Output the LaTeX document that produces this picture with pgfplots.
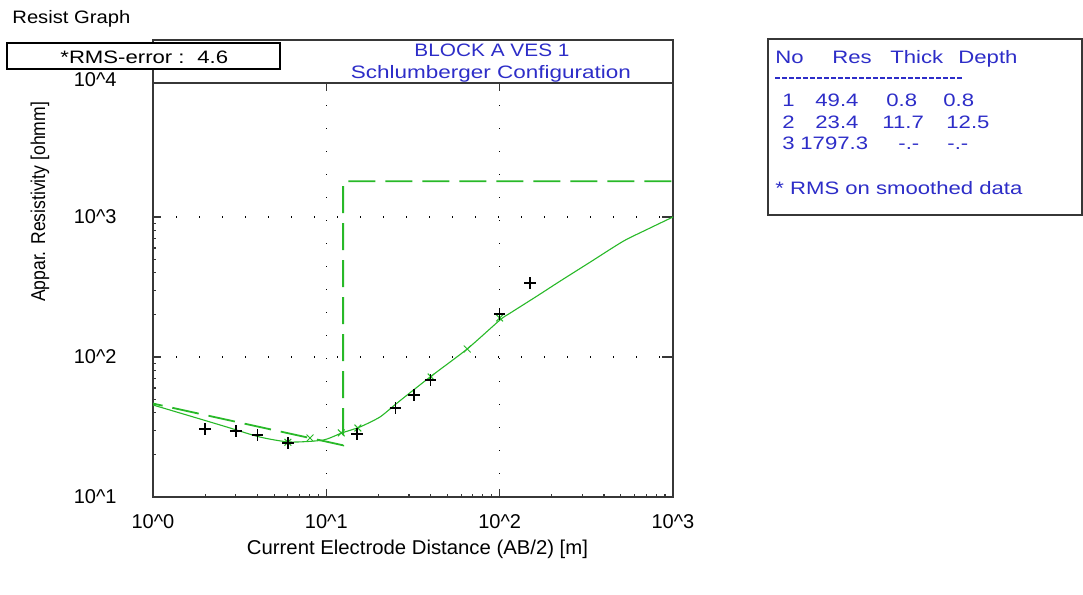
\documentclass[border=0pt]{standalone}
\usepackage{fontspec}
\setmainfont{Liberation Sans}
\usepackage{graphicx}
\usepackage{pgfplots}
\pgfplotsset{compat=1.18}
\definecolor{cgreen}{RGB}{40,185,40}
\definecolor{cblue}{RGB}{45,45,200}
\definecolor{cframe}{RGB}{55,55,55}
\newcommand\fitw[2]{\resizebox{#1}{\height}{#2}}
\newcommand\wid[1]{\scalebox{1.23}[1]{#1}}
\newcommand\nine{\fontsize{9}{11}\selectfont}
\newcommand\ten{\fontsize{10}{12}\selectfont}
\begin{document}
\begin{tikzpicture}
\path[use as bounding box, fill=white] (0pt,0pt) rectangle (541.5pt,297.5pt);
\begin{axis}[
  at={(76.5pt,49pt)}, anchor=south west,
  width=260pt, height=207pt, scale only axis,
  xmode=log, ymode=log,
  xmin=1, xmax=1000, ymin=10, ymax=9057,
  xtick={1,10,100,1000},
  xticklabels={10\textasciicircum 0,10\textasciicircum 1,10\textasciicircum 2,10\textasciicircum 3},
  ytick={10,100,1000},
  yticklabels={10\textasciicircum 1,10\textasciicircum 2,10\textasciicircum 3},
  xtick pos=bottom, ytick pos=left,
  tick align=inside,
  major tick length=4pt, minor tick length=1.5pt,
  tick style={cframe, line width=0.6pt},
  axis line style={cframe, line width=0.8pt},
  xticklabel style={font=\ten, inner sep=0pt, yshift=-8.75pt},
  yticklabel style={font=\ten, inner sep=0pt, xshift=-18pt},
  grid=major,
  major grid style={black, line width=0.7pt, dash pattern=on 0.7pt off 10.8pt},
  extra y ticks={100,1000}, extra y tick labels={,},
  extra y tick style={ytick pos=right, major tick length=5.5pt, grid=none},
  extra x ticks={10,100}, extra x tick labels={,},
  extra x tick style={xtick pos=top, major tick length=4pt, grid=none},
  clip=true,
]
% layered model (dashed)
\addplot[cgreen, line width=0.9pt, dash pattern=on 13.5pt off 5pt]
  coordinates {(0.8,49.4) (12.5,23.4) (12.5,1797.3) (1000,1797.3)};
% calculated curve
\addplot[cgreen, line width=0.55pt, smooth, tension=0.4]
  coordinates {(1.0,45.4) (1.635,37.9) (2.67,31.6) (4.14,26.8) (6.17,24.7)
    (9.57,25.5) (12.3,28.7) (15.6,31.6) (20.4,37.3) (25.6,46.9) (39.7,72.0)
    (64.9,114) (100.5,184) (114.8,205.6) (164,272) (223,348) (332,475)
    (515,670) (709,815) (1000,1000)};
% smoothed data
\addplot[only marks, mark=x, mark size=2.4pt, cgreen, mark options={line width=0.5pt}]
  coordinates {(6.0,24.6) (8.05,26.4) (12.2,28.7) (15.2,31.1) (40.2,72) (65,114) (100,190)};
% observed data
\addplot[only marks, mark=+, mark size=2.9pt, black, mark options={line width=0.8pt}]
  coordinates {(2.0,30.6) (3.0,29.6) (4.0,27.7) (6.0,24.3) (15.0,28.2)
    (25,43.2) (32,53.5) (40,68.5) (100,203) (150,338)};
\end{axis}
% 10^4 label
\node[anchor=east, inner sep=0pt, font=\ten] at (58.5pt,257.5pt) {10\textasciicircum 4};
% title frame
\draw[cframe, line width=0.75pt] (76.5pt,256pt) rectangle (336.5pt,277.5pt);
\node[anchor=base, inner sep=0pt, text=cblue, font=\nine] at (246pt,269pt) {\fitw{77.5pt}{BLOCK A VES 1}};
\node[anchor=base, inner sep=0pt, text=cblue, font=\nine] at (245.5pt,258pt) {\fitw{140pt}{Schlumberger Configuration}};
% RMS box
\draw[black, fill=white, line width=0.75pt] (3.5pt,276pt) rectangle (140pt,263pt);
\node[anchor=base west, inner sep=0pt, font=\nine] at (30pt,265.5pt) {\wid{*RMS-error :}};
\node[anchor=base west, inner sep=0pt, font=\nine] at (98.5pt,265.5pt) {\wid{4.6}};
% Resist Graph
\node[anchor=base west, inner sep=0pt, font=\nine] at (6pt,285.5pt) {\fitw{59pt}{Resist Graph}};
% axis labels
\node[anchor=base, inner sep=0pt, font=\ten] at (208.75pt,20pt) {\fitw{170.5pt}{Current Electrode Distance (AB/2) [m]}};
\node[rotate=90, inner sep=0pt, font=\ten] at (20pt,196.5pt) {\fitw{100pt}{Appar. Resistivity [ohmm]}};
% legend box
\draw[cframe, line width=0.75pt] (384pt,278pt) rectangle (541pt,190pt);
\begin{scope}[every node/.style={anchor=base west, inner sep=0pt, text=cblue, font=\nine}]
\node at (387.5pt,265.8pt) {\wid{No}};
\node at (416pt,265.8pt) {\wid{Res}};
\node at (445pt,265.8pt) {\wid{Thick}};
\node at (479pt,265.8pt) {\wid{Depth}};
\node at (391pt,244.3pt) {\wid{1}};
\node at (407.5pt,244.3pt) {\wid{49.4}};
\node at (443pt,244.3pt) {\wid{0.8}};
\node at (471.5pt,244.3pt) {\wid{0.8}};
\node at (391pt,233.3pt) {\wid{2}};
\node at (407.5pt,233.3pt) {\wid{23.4}};
\node at (441pt,233.3pt) {\wid{11.7}};
\node at (473pt,233.3pt) {\wid{12.5}};
\node at (391pt,222.8pt) {\wid{3}};
\node at (400pt,222.8pt) {\wid{1797.3}};
\node at (449pt,222.8pt) {\wid{-.-}};
\node at (473.5pt,222.8pt) {\wid{-.-}};
\node at (387.5pt,200.3pt) {\fitw{123.5pt}{* RMS on smoothed data}};
\end{scope}
\draw[cblue, line width=0.7pt, dash pattern=on 2.6pt off 0.9pt] (387.5pt,258.5pt) -- (481.5pt,258.5pt);
\end{tikzpicture}
\end{document}
